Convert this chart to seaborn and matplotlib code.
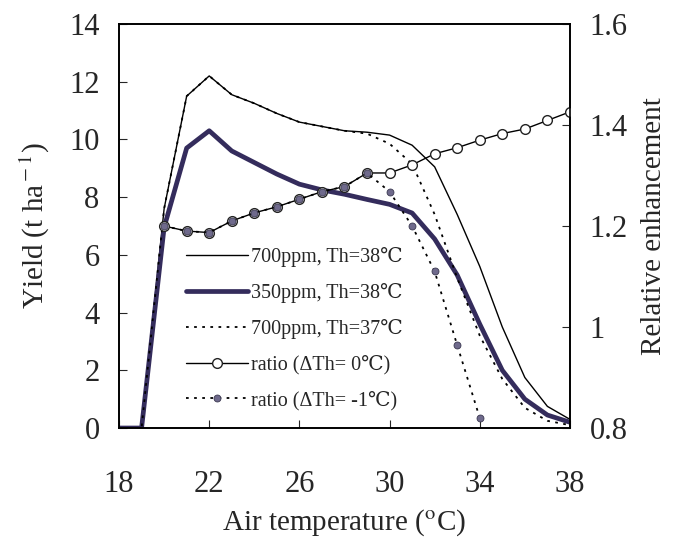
import matplotlib
matplotlib.use("Agg")
import matplotlib.pyplot as plt
import seaborn as sns
from matplotlib.ticker import FuncFormatter

# air temperature (deg C)
temp = list(range(18, 39))
yield_700_th38 = [0, 0, 7.6, 11.5, 12.2, 11.55, 11.25, 10.9, 10.6, 10.45, 10.3, 10.25,
                  10.15, 9.8, 9.05, 7.4, 5.6, 3.5, 1.75, 0.75, 0.3]
yield_350_th38 = [0, 0, 6.95, 9.7, 10.3, 9.6, 9.2, 8.8, 8.45, 8.25, 8.1, 7.92,
                  7.75, 7.45, 6.55, 5.3, 3.6, 2.0, 1.0, 0.45, 0.2]
yield_700_th37 = [0, 0, 7.6, 11.5, 12.2, 11.55, 11.25, 10.9, 10.6, 10.45, 10.3, 10.2,
                  9.85, 9.15, 7.4, 5.2, 3.2, 1.7, 0.7, 0.25, 0.1]

ratio_temp = list(range(20, 39))
ratio_dth0 = [1.20, 1.19, 1.187, 1.21, 1.226, 1.238, 1.253, 1.268, 1.278, 1.305,
              1.305, 1.321, 1.343, 1.355, 1.37, 1.383, 1.392, 1.409, 1.426]
ratio_m1_temp = list(range(20, 35))
ratio_dthm1 = [1.20, 1.19, 1.187, 1.21, 1.226, 1.238, 1.253, 1.268, 1.278, 1.305,
               1.268, 1.20, 1.11, 0.964, 0.82]

sns.set_style("ticks")
plt.rcParams['font.family'] = ['Liberation Serif', 'DejaVu Serif']
plt.rcParams['mathtext.fontset'] = 'stix'

fig = plt.figure(figsize=(6.74, 5.39), dpi=100)
ax = fig.add_axes([0.1766, 0.2059, 0.669, 0.7496])
ax2 = ax.twinx()

sns.lineplot(x=temp, y=yield_700_th38, ax=ax, color='black', lw=1.0,
             label='700ppm, Th=38\u2103', legend=False)
sns.lineplot(x=temp, y=yield_350_th38, ax=ax, color='#342c5c', lw=3.4,
             label='350ppm, Th=38\u2103', legend=False)
sns.lineplot(x=temp, y=yield_700_th37, ax=ax, color='black', lw=1.3,
             linestyle=(0, (1.5, 3)), label='700ppm, Th=37\u2103', legend=False)

sns.lineplot(x=ratio_temp, y=ratio_dth0, ax=ax2, color='black', lw=1.0,
             marker='o', markersize=7, markerfacecolor='white',
             markeredgecolor='#222222', markeredgewidth=1.0,
             label='ratio (\u0394Th= 0\u2103)', legend=False)
sns.lineplot(x=ratio_m1_temp, y=ratio_dthm1, ax=ax2, color='black', lw=1.3,
             linestyle=(0, (1.5, 3)), marker='o', markersize=5,
             markerfacecolor='#6f6a8c', markeredgecolor='#3a3850', markeredgewidth=0.6,
             label='ratio (\u0394Th= -1\u2103)', legend=False)

ax.set_xlim(18, 38)
ax.set_ylim(0, 14)
ax2.set_ylim(0.8, 1.6)
ax.set_xticks(range(18, 39, 4))
ax.set_yticks(range(0, 15, 2))
ax2.set_yticks([0.8, 1.0, 1.2, 1.4, 1.6])
ax2.yaxis.set_major_formatter(FuncFormatter(lambda v, p: f"{v:g}"))

ax.tick_params(axis='x', direction='in', length=6, pad=30, labelsize=22, top=False)
ax.tick_params(axis='y', direction='in', length=6, pad=14, labelsize=22)
ax2.tick_params(axis='y', direction='in', length=6, pad=14, labelsize=22)

for a in (ax, ax2):
    for s in a.spines.values():
        s.set_visible(True)
        s.set_linewidth(1.2)
        s.set_color('black')

ax.set_xlabel('Air temperature ($^{\\rm o}$C)', fontsize=21, labelpad=6)
ax.set_ylabel('Yield (t ha$^{\\rm -1}$)', fontsize=21, labelpad=12)
ax2.set_ylabel('Relative enhancement', fontsize=21, labelpad=10)

h1, lab1 = ax.get_legend_handles_labels()
h2, lab2 = ax2.get_legend_handles_labels()
ax2.legend(h1 + h2, lab1 + lab2, loc='upper left', bbox_to_anchor=(0.13, 0.468),
           frameon=False, fontsize=14.5, handlelength=3.1, handletextpad=0.15,
           labelspacing=0.8, borderaxespad=0)

fig.savefig('out.png', dpi=100)
